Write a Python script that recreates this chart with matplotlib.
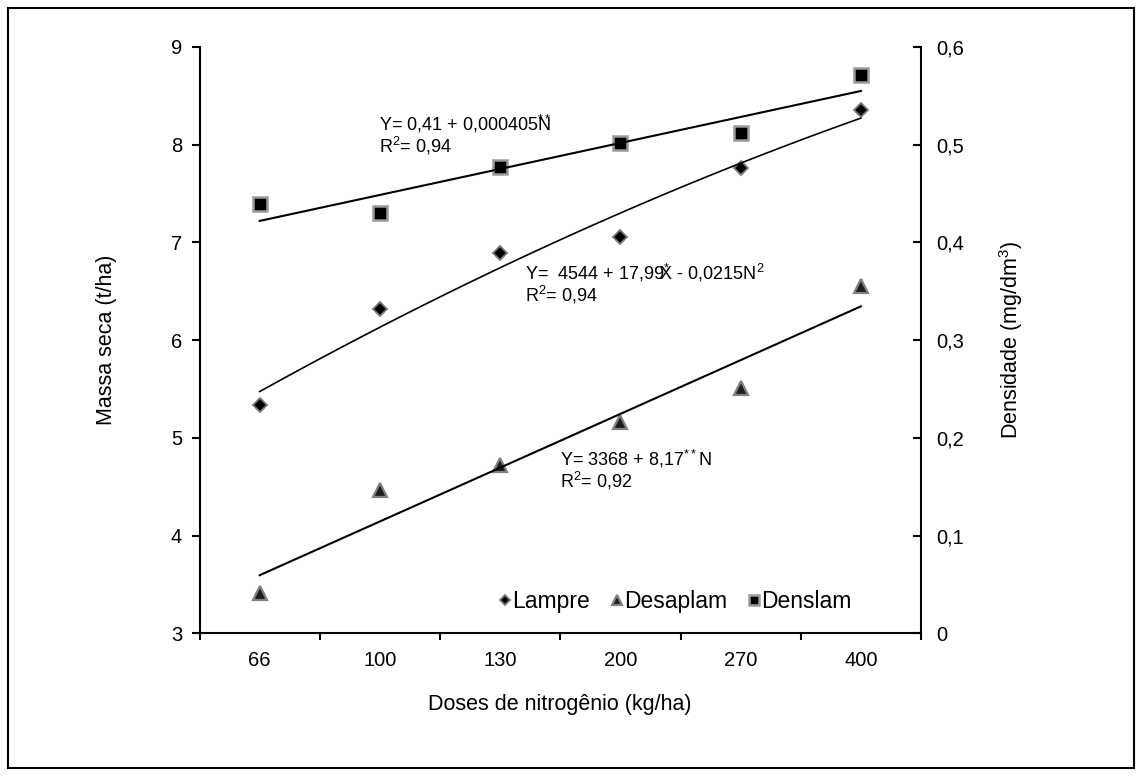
import numpy as np
import matplotlib
matplotlib.use("Agg")
from matplotlib import pyplot as plt
from matplotlib.patches import Rectangle
from matplotlib.ticker import FuncFormatter, FixedLocator

plt.rcParams["font.family"] = ["Liberation Sans", "DejaVu Sans"]
plt.rcParams["mathtext.fontset"] = "custom"
plt.rcParams["mathtext.rm"] = "Liberation Sans"
plt.rcParams["mathtext.default"] = "regular"

# dados
doses = ["66", "100", "130", "200", "270", "400"]
lampre = [5.34, 6.32, 6.89, 7.06, 7.76, 8.36]
desaplam = [3.41, 4.47, 4.72, 5.16, 5.51, 6.55]
denslam = [7.39, 7.30, 7.77, 8.02, 8.12, 8.71]

fig = plt.figure(figsize=(11.42, 7.76), dpi=100)
ax = fig.add_axes([199.5 / 1142, 1 - 633.3 / 776, 721.5 / 1142, 586.3 / 776])

# moldura externa
fig.patches.append(Rectangle((8 / 1142, 8 / 776), 1126 / 1142, 760 / 776,
                             transform=fig.transFigure, fill=False,
                             edgecolor="black", linewidth=1.5))

x = np.arange(len(doses)) + 0.5

ax.plot(x, lampre, "D", ms=7.5, mfc="black", mec="#7a7a7a", mew=1.3, label="Lampre")
ax.plot(x, desaplam, "^", ms=10.5, mfc="#1e1e1e", mec="#808080", mew=1.6, label="Desaplam")
ax.plot(x, denslam, "s", ms=10, mfc="black", mec="#9a9a9a", mew=1.8, label="Denslam")

# linhas de tendência (Excel, sobre o índice da categoria)
idx = np.arange(1, len(doses) + 1)
xs = np.linspace(1, len(doses), 100)
c_den = np.polyfit(idx, denslam, 1)
c_des = np.polyfit(idx, desaplam, 1)
c_lam = np.polyfit(idx, lampre, 2)
ax.plot(xs - 0.5, np.polyval(c_den, xs), color="black", lw=1.5)
ax.plot(xs - 0.5, np.polyval(c_des, xs), color="black", lw=1.5)
ax.plot(xs - 0.5, np.polyval(c_lam, xs), color="black", lw=1.2)

eq_kw = dict(fontsize=13, va="top", ha="left", linespacing=1.0)
ax.text(1.49, 8.33, "Y= 0,41 + 0,000405$^{**}\\!\\!\\!\\!\\!$N\nR$^2$= 0,94", **eq_kw)
ax.text(2.71, 6.80, "Y=  4544 + 17,99$^{*}\\!\\!\\!$X - 0,0215N$^2$\nR$^2$= 0,94", **eq_kw)
ax.text(3.0, 4.90, "Y= 3368 + 8,17$^{**}$N\nR$^2$= 0,92", **eq_kw)

ax.set_xlim(0, 6)
ax.set_ylim(3, 9)
ax.set_yticks(np.arange(3, 10, 1))
ax.xaxis.set_major_locator(FixedLocator(np.arange(0, 7)))
ax.xaxis.set_minor_locator(FixedLocator(x))
ax.set_xticklabels([])
ax.set_xticklabels(doses, minor=True)
ax.tick_params(axis="x", which="major", direction="out", length=5, width=1.5)
ax.tick_params(axis="x", which="minor", length=0, pad=13, labelsize=14.5)
ax.tick_params(axis="y", direction="out", length=5.5, width=1.5, pad=7, labelsize=14.5)

for s in ["top", "right"]:
    ax.spines[s].set_visible(False)
for s in ["left", "bottom"]:
    ax.spines[s].set_linewidth(1.5)

ax.set_ylabel("Massa seca (t/ha)", fontsize=15.5, labelpad=39)
ax.set_xlabel("Doses de nitrogênio (kg/ha)", fontsize=15.5, labelpad=17)

ax2 = ax.twinx()
ax2.set_ylim(0, 0.6)
ax2.set_yticks(np.arange(0, 0.61, 0.1))
ax2.yaxis.set_major_formatter(FuncFormatter(lambda v, p: ("%g" % round(v, 1)).replace(".", ",")))
ax2.tick_params(axis="y", direction="in", length=5.5, width=1.5, pad=11, labelsize=14.5)
for s in ["top", "left", "bottom"]:
    ax2.spines[s].set_visible(False)
ax2.spines["right"].set_linewidth(1.5)
ax2.set_ylabel("Densidade (mg/dm$^3$)", fontsize=15.5, labelpad=24)

ax.legend(loc="center", bbox_to_anchor=(0.66, 0.055), ncol=3, frameon=False,
          fontsize=16.5, handlelength=0.45, handletextpad=0.1, columnspacing=0.95,
          markerscale=0.65)

plt.savefig("out.png", dpi=100)
